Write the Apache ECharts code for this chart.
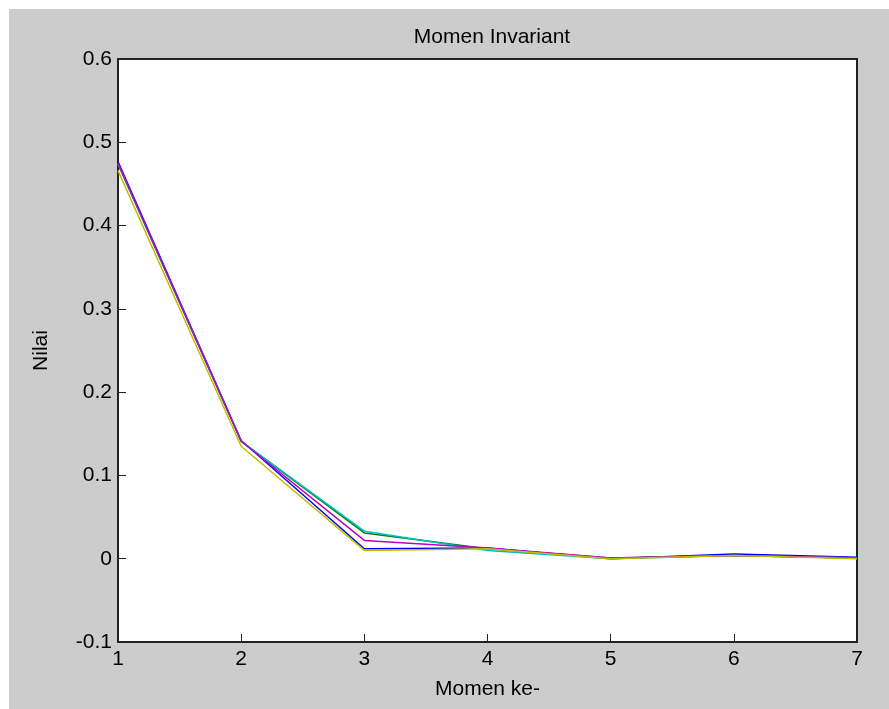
<!doctype html>
<html lang="en">
<head>
    <meta charset="UTF-8">
    <title>Momen Invariant</title>
    <style>
        body { margin: 0; background: #fff; }
    </style>
</head>
<body>
<div id="myChart" style="width: 889px;height: 709px"></div>
<script src="https://cdn.jsdelivr.net/npm/echarts@6/dist/echarts.min.js"></script>
<script>
    var xValues = [1, 2, 3, 4, 5, 6, 7];
    var seriesNames = ['b', 'g', 'c', 'm', 'y'];
    var seriesColors = ['#0000ff', '#008000', '#00bfbf', '#bf00bf', '#bfbf00'];
    var dataB = [0.477, 0.142, 0.012, 0.013, 0.000, 0.0058, 0.0018];
    var dataG = [0.474, 0.141, 0.031, 0.012, 0.001, 0.004, 0.001];
    var dataC = [0.474, 0.141, 0.033, 0.010, 0.000, 0.004, 0.001];
    var dataM = [0.475, 0.141, 0.022, 0.013, 0.001, 0.004, 0.001];
    var dataY = [0.466, 0.135, 0.010, 0.012, 0.000, 0.004, 0.000];
    var allData = [dataB, dataG, dataC, dataM, dataY];

    var myChart = echarts.init(document.getElementById('myChart'));
    var font = 'Liberation Sans, Arial, sans-serif';

    var series = allData.map(function (d, i) {
        return {
            name: seriesNames[i],
            type: 'line',
            showSymbol: false,
            symbol: 'none',
            lineStyle: {color: seriesColors[i], width: 1.5},
            data: d.map(function (v, j) { return [xValues[j], v]; })
        };
    });

    var option = {
        backgroundColor: '#ffffff',
        animation: false,
        graphic: [{
            type: 'rect',
            z: -10,
            silent: true,
            shape: {x: 9, y: 9, width: 880, height: 700},
            style: {fill: '#cccccc'}
        }],
        title: {
            text: 'Momen Invariant',
            left: 487,
            textAlign: 'center',
            top: 22,
            textStyle: {fontFamily: font, fontSize: 21, fontWeight: 'normal', color: '#000'}
        },
        grid: {
            left: 118, right: 32, top: 59, bottom: 67,
            show: true,
            backgroundColor: '#ffffff',
            borderColor: '#222',
            borderWidth: 2
        },
        xAxis: {
            type: 'value',
            min: 1, max: 7, interval: 1,
            name: 'Momen ke-',
            nameLocation: 'middle',
            nameGap: 37,
            nameTextStyle: {fontFamily: font, fontSize: 21, color: '#000'},
            axisLine: {onZero: false, lineStyle: {color: '#222', width: 2}},
            axisTick: {inside: true, length: 8, lineStyle: {color: '#222'}},
            axisLabel: {fontFamily: font, fontSize: 21, color: '#000', margin: 7},
            splitLine: {show: false}
        },
        yAxis: {
            type: 'value',
            min: -0.1, max: 0.6, interval: 0.1,
            name: 'Nilai',
            nameLocation: 'middle',
            nameGap: 66,
            nameTextStyle: {fontFamily: font, fontSize: 21, color: '#000'},
            axisLine: {show: true, onZero: false, lineStyle: {color: '#222', width: 2}},
            axisTick: {show: true, inside: true, length: 8, lineStyle: {color: '#222'}},
            axisLabel: {
                fontFamily: font, fontSize: 21, color: '#000', margin: 6,
                formatter: function (v) { return (Math.round(v * 10) / 10).toString(); }
            },
            splitLine: {show: false}
        },
        series: series
    };

    myChart.setOption(option);
</script>
</body>
</html>
